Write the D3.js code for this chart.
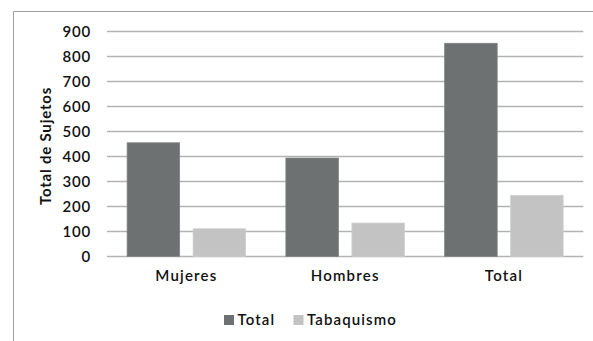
<!DOCTYPE html>
<html><head><meta charset="utf-8">
<script src="https://d3js.org/d3.v7.min.js"></script>
<style>body{margin:0;background:#fff}</style>
</head><body>
<script>
const categories = ["Mujeres", "Hombres", "Total"];
const seriesNames = ["Total", "Tabaquismo"];
const totalValues = [454, 393, 852];
const tabaquismoValues = [110, 133, 244];
const yTicks = [0, 100, 200, 300, 400, 500, 600, 700, 800, 900];
const colors = ["#6e7171", "#c3c3c3"];

const W = 593, H = 341;
const svg = d3.select("body").append("svg").attr("width", W).attr("height", H);
const font = "Lato, 'Open Sans', sans-serif";

// frame
svg.append("path").attr("d", `M13.5,${H} L13.5,11.5 L${W},11.5`)
  .attr("fill", "none").attr("stroke", "#a0a0a0").attr("stroke-width", 1);

const x0 = d3.scaleBand().domain(categories).range([107, 583.3]).paddingInner(0).paddingOuter(0);
const y = d3.scaleLinear().domain([0, 900]).range([256.3, 31.3]);

// gridlines
svg.append("g").selectAll("line").data(yTicks).join("line")
  .attr("x1", 107).attr("x2", 583.3)
  .attr("y1", d => Math.round(y(d)) + 0.5).attr("y2", d => Math.round(y(d)) + 0.5)
  .attr("stroke", "#b3b3b3").attr("stroke-width", 1.5);

// y axis labels
const yAxis = d3.axisLeft(y).tickValues(yTicks).tickSize(0).tickPadding(16);
const ga = svg.append("g").attr("transform", "translate(107,0)").call(yAxis);
ga.select(".domain").remove();
ga.selectAll("text").attr("font-family", font).attr("font-size", 15).attr("fill", "#111")
  .attr("font-weight", 600).attr("letter-spacing", "0.8px");

// bars
const bw = 52.5, gapBetween = 13.5;
const data = categories.map((c, i) => ({c, vals: [totalValues[i], tabaquismoValues[i]]}));
const groups = svg.append("g").selectAll("g").data(data).join("g");
groups.each(function(d) {
  const cx = x0(d.c) + x0.bandwidth() / 2;
  const g = d3.select(this);
  d.vals.forEach((v, k) => {
    const xs = k === 0 ? cx - gapBetween / 2 - bw : cx + gapBetween / 2;
    g.append("rect").attr("x", xs).attr("width", bw)
      .attr("y", y(v)).attr("height", y(0) - y(v))
      .attr("fill", colors[k]).attr("stroke", k === 0 ? "#7e8181" : "#cfcfcf").attr("stroke-width", 0.8);
  });
});

// x labels
const xAxis = d3.axisBottom(x0).tickSize(0).tickPadding(14);
const gx = svg.append("g").attr("transform", "translate(0,256.3)").call(xAxis);
gx.select(".domain").remove();
gx.selectAll("text").attr("font-family", font).attr("font-size", 15).attr("fill", "#111")
  .attr("font-weight", 600).attr("letter-spacing", "1.2px");

// y title
svg.append("text").attr("transform", "translate(51,146) rotate(-90)")
  .attr("text-anchor", "middle").attr("font-family", font).attr("font-size", 15)
  .attr("font-weight", "bold").attr("fill", "#111").attr("letter-spacing", "0.8px")
  .text("Total de Sujetos");

// legend
const legendX = [224, 293.5];
const lg = svg.append("g").selectAll("g").data(seriesNames).join("g")
  .attr("transform", (d, i) => `translate(${legendX[i]},315)`);
lg.append("rect").attr("width", 10).attr("height", 10).attr("fill", (d, i) => colors[i]);
lg.append("text").attr("x", 13.5).attr("y", 10).attr("font-family", font).attr("font-size", 15)
  .attr("font-weight", 600).attr("fill", "#111").attr("letter-spacing", "1.1px").text(d => d);
</script>
</body></html>
